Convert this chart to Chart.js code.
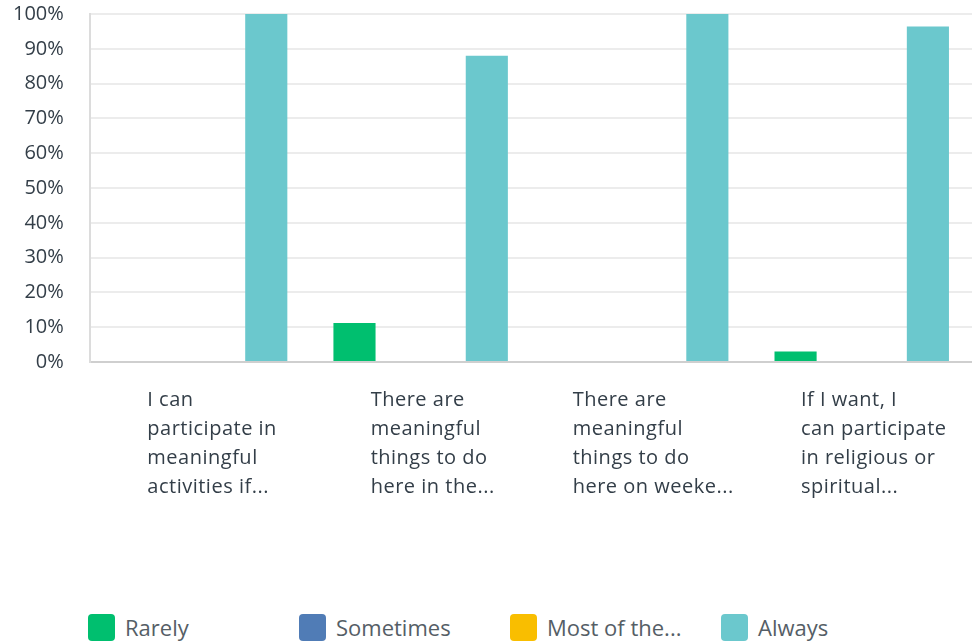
<!DOCTYPE html>
<html>
<head>
<meta charset="utf-8">
<script src="https://cdn.jsdelivr.net/npm/chart.js@4"></script>
<style>
  body { margin: 0; background: #fff; font-family: "Open Sans", sans-serif; }
  #wrap { position: relative; width: 972px; height: 642px; overflow: hidden; }
  #legend { position: absolute; left: 88px; top: 612px; display: flex; }
  .item { width: 211px; display: flex; align-items: center; color: #555e66; font-size: 22px; }
  .box { width: 27px; height: 27px; border-radius: 4px; margin-right: 10px; }
</style>
</head>
<body>
<div id="wrap">
  <canvas id="barChart" width="972" height="600"></canvas>
  <div id="legend"></div>
</div>
<script>
const categories = [
  ['I can', 'participate in', 'meaningful', 'activities if...'],
  ['There are', 'meaningful', 'things to do', 'here in the...'],
  ['There are', 'meaningful', 'things to do', 'here on weeke...'],
  ['If I want, I', 'can participate', 'in religious or', 'spiritual...']
];
const seriesNames = ['Rarely', 'Sometimes', 'Most of the...', 'Always'];
const seriesColors = ['#00bf6f', '#507cb6', '#f9be00', '#6bc8cd'];
const rarely = [0, 11.2, 0, 3];
const sometimes = [0, 0, 0, 0];
const mostOfThe = [0, 0, 0, 0];
const always = [100, 88, 100, 96.4];
const yTicks = [0, 10, 20, 30, 40, 50, 60, 70, 80, 90, 100];

const values = [rarely, sometimes, mostOfThe, always];
const textColor = '#333e48';
const fontFamily = '"Open Sans", sans-serif';

// x labels are drawn by hand so each line can be left aligned
const xLabels = {
  id: 'xLabels',
  afterDraw(chart) {
    const ctx = chart.ctx;
    const xs = chart.scales.x;
    ctx.save();
    ctx.font = '20px ' + fontFamily;
    ctx.letterSpacing = '0.5px';
    ctx.fillStyle = textColor;
    ctx.textAlign = 'left';
    ctx.textBaseline = 'middle';
    categories.forEach((lines, i) => {
      const w = Math.max(...lines.map(l => ctx.measureText(l).width));
      const x0 = xs.getPixelForValue(i) - w / 2 + 12;
      lines.forEach((l, j) => ctx.fillText(l, x0, chart.chartArea.bottom + 38 + j * 29));
    });
    ctx.restore();
  }
};

new Chart(document.getElementById('barChart'), {
  type: 'bar',
  data: {
    labels: categories.map(c => c.join(' ')),
    datasets: seriesNames.map((name, i) => ({
      label: name,
      data: values[i],
      backgroundColor: seriesColors[i],
      borderWidth: 0,
      categoryPercentage: 0.8,
      barPercentage: 0.955
    }))
  },
  options: {
    responsive: false,
    animation: false,
    layout: { padding: { top: 0, left: 11, right: -7, bottom: 230 } },
    plugins: { legend: { display: false }, tooltip: { enabled: false } },
    scales: {
      x: {
        grid: { display: false },
        border: { color: '#cfcfcf', width: 2 },
        ticks: { display: false }
      },
      y: {
        min: 0,
        max: 100,
        afterBuildTicks: s => { s.ticks = yTicks.map(v => ({ value: v })); },
        ticks: {
          callback: v => v + '%',
          color: textColor,
          padding: 2,
          font: { family: fontFamily, size: 20 }
        },
        grid: { color: '#ececec', lineWidth: 2, drawTicks: true, tickLength: 24, tickColor: 'transparent' },
        border: { color: '#dcdcdc', width: 2 }
      }
    }
  },
  plugins: [xLabels]
});

const legend = document.getElementById('legend');
seriesNames.forEach((name, i) => {
  const item = document.createElement('div');
  item.className = 'item';
  const box = document.createElement('span');
  box.className = 'box';
  box.style.background = seriesColors[i];
  const txt = document.createElement('span');
  txt.textContent = name;
  item.appendChild(box);
  item.appendChild(txt);
  legend.appendChild(item);
});
</script>
</body>
</html>
